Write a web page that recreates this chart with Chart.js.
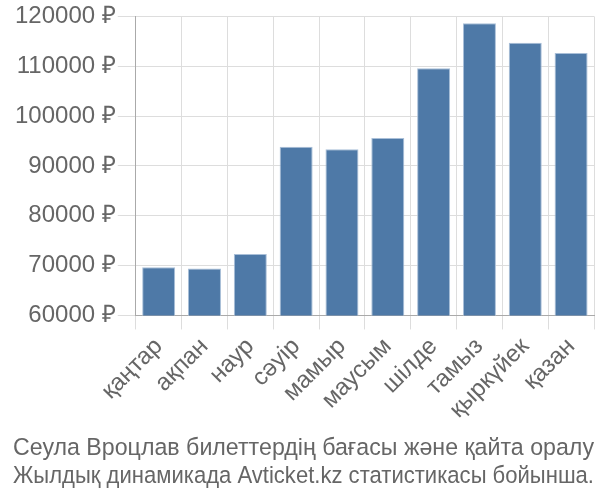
<!DOCTYPE html>
<html>
<head>
<meta charset="utf-8">
<script src="https://cdn.jsdelivr.net/npm/chart.js@4/dist/chart.umd.min.js"></script>
<style>
    html, body { margin: 0; padding: 0; background: #fff; }
    #wrap { width: 600px; height: 500px; }
</style>
</head>
<body>
<div id="wrap"><canvas id="price-chart"></canvas></div>
<script>
const months = ['қаңтар', 'ақпан', 'наур', 'сәуір', 'мамыр', 'маусым', 'шілде', 'тамыз', 'қыркүйек', 'қазан'];
const prices = [69650, 69400, 72350, 93850, 93350, 95600, 109600, 118650, 114700, 112650];
const titleLines = ['Сеула Вроцлав билеттердің бағасы және қайта оралу', 'Жылдық динамикада Avticket.kz статистикасы бойынша.'];

Chart.defaults.font.family = '"Liberation Sans", Arial, sans-serif';
Chart.defaults.color = '#666';

const ctx = document.getElementById('price-chart');
new Chart(ctx, {
    type: 'bar',
    data: {
        labels: months,
        datasets: [
            {
                label: 'Баға',
                data: prices,
                backgroundColor: '#4e79a7',
                borderColor: '#a9bfd8',
                borderWidth: 1,
            }
        ]
    },
    options: {
        responsive: true,
        maintainAspectRatio: false,
        animation: false,
        layout: {
            padding: {left: 13, right: 6, top: 4, bottom: 0}
        },
        plugins: {
            legend: {
                display: false
            },
            tooltip: {
                enabled: false
            },
            title: {
                display: true,
                position: 'bottom',
                text: titleLines,
                font: {size: 24.5, weight: 'normal', lineHeight: 1.14},
                color: '#666',
                padding: {top: 7, bottom: 10}
            }
        },
        scales: {
            x: {
                grid: {
                    color: '#dddddd',
                    tickLength: 14
                },
                border: {color: '#aaaaaa'},
                ticks: {
                    font: {size: 24},
                    maxRotation: 45,
                    minRotation: 45,
                    color: '#666'
                }
            },
            y: {
                min: 60000,
                max: 120000,
                grid: {
                    color: '#dddddd',
                    tickLength: 18
                },
                border: {color: '#aaaaaa'},
                ticks: {
                    stepSize: 10000,
                    font: {size: 24},
                    padding: 2,
                    color: '#666',
                    callback: value => value + ' ₽'
                }
            }
        }
    }
});
</script>
</body>
</html>
